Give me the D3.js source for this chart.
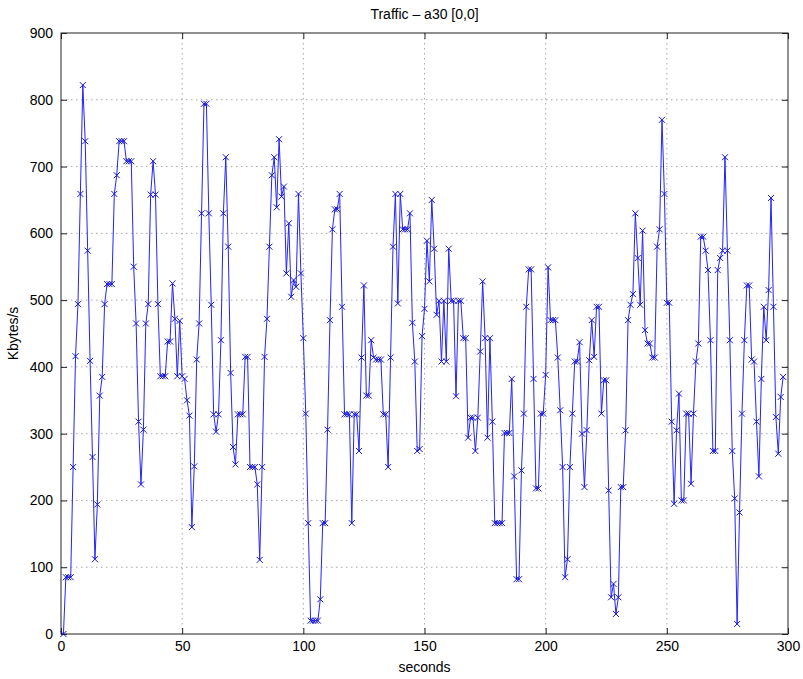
<!DOCTYPE html>
<html>
<head>
<meta charset="utf-8">
<script src="https://cdn.jsdelivr.net/npm/d3@7/dist/d3.min.js"></script>
<style>
    body { margin: 0; background: #fff; }
    #chart-area { width: 803px; height: 679px; }
    .axis text { font-family: "Liberation Sans", Arial, sans-serif; font-size: 14px; fill: #000; }
    .axis line { stroke: #222; }
    .grid line { stroke: #a8a8a8; stroke-width: 1; stroke-dasharray: 1.5, 3.5; }
    .label { font-family: "Liberation Sans", Arial, sans-serif; font-size: 14px; fill: #000; }
    .title { font-family: "Liberation Sans", Arial, sans-serif; font-size: 14px; fill: #000; }
</style>
</head>
<body>
<div id="chart-area"></div>
<script>

// Kbytes/s, one sample per second starting at t = 1
let kbytes = [
    0, 85, 85, 85, 250, 416, 494, 659, 822, 738,
    574, 409, 265, 112, 194, 357, 385, 494, 524, 524,
    524, 659, 687, 738, 738, 738, 708, 708, 708, 550,
    465, 318, 224, 306, 465, 494, 658, 708, 658, 494,
    386, 386, 386, 438, 438, 525, 472, 386, 469, 386,
    382, 350, 327, 160, 251, 411, 465, 630, 794, 794,
    630, 493, 329, 303, 329, 440, 630, 714, 580, 391,
    280, 254, 329, 329, 329, 415, 415, 250, 250, 250,
    224, 111, 250, 415, 472, 580, 687, 714, 639, 741,
    655, 670, 540, 615, 505, 530, 520, 659, 540, 443,
    330, 166, 20, 20, 20, 20, 52, 166, 166, 306,
    470, 606, 636, 636, 659, 490, 329, 329, 329, 166,
    329, 329, 274, 414, 522, 357, 357, 440, 414, 411,
    411, 411, 329, 329, 250, 414, 580, 659, 495, 659,
    606, 606, 606, 630, 466, 408, 274, 277, 446, 487,
    589, 528, 650, 577, 478, 499, 408, 499, 408, 577,
    499, 499, 356, 499, 499, 443, 443, 294, 324, 324,
    274, 324, 423, 528, 443, 294, 443, 318, 166, 166,
    166, 166, 301, 301, 301, 382, 236, 82, 82, 245,
    330, 490, 546, 546, 382, 218, 218, 330, 330, 388,
    549, 470, 470, 470, 414, 335, 250, 85, 112, 250,
    330, 408, 408, 437, 300, 220, 305, 410, 470, 415,
    490, 490, 330, 380, 380, 215, 55, 75, 30, 55,
    220, 220, 305, 470, 493, 509, 630, 563, 493, 604,
    455, 435, 435, 414, 414, 580, 606, 770, 659, 496,
    496, 318, 195, 305, 360, 200, 200, 330, 330, 225,
    330, 408, 435, 595, 595, 574, 545, 440, 274, 274,
    545, 563, 574, 714, 574, 440, 274, 203, 15, 182,
    330, 440, 522, 522, 411, 408, 318, 236, 382, 490,
    440, 515, 653, 490, 325, 270, 355, 385
];

let xTicks = [0, 50, 100, 150, 200, 250, 300];
let yTicks = [0, 100, 200, 300, 400, 500, 600, 700, 800, 900];

let chartTitle = "Traffic \u2013 a30 [0,0]";
let xLabel = "seconds";
let yLabel = "Kbytes/s";


class TrafficVis {

    constructor(parentElement, data) {
        this.parentElement = parentElement;
        this.data = data;
        this.displayData = [];

        this.initVis();
    }

    initVis() {
        let vis = this;

        vis.margin = {top: 33, right: 15, bottom: 45, left: 61};
        vis.width = 803 - vis.margin.left - vis.margin.right;
        vis.height = 679 - vis.margin.top - vis.margin.bottom;

        vis.svg = d3.select("#" + vis.parentElement).append("svg")
            .attr("width", vis.width + vis.margin.left + vis.margin.right)
            .attr("height", vis.height + vis.margin.top + vis.margin.bottom)
            .append("g")
            .attr("transform", `translate(${vis.margin.left}, ${vis.margin.top})`);

        // scales
        vis.x = d3.scaleLinear().domain([xTicks[0], xTicks[xTicks.length - 1]]).range([0, vis.width]);
        vis.y = d3.scaleLinear().domain([yTicks[0], yTicks[yTicks.length - 1]]).range([vis.height, 0]);

        // dotted grid, skipping the ones sitting on the box
        vis.svg.append("g").attr("class", "grid")
            .selectAll("line.gx")
            .data(xTicks.slice(1, -1))
            .enter().append("line")
            .attr("class", "gx")
            .attr("x1", d => vis.x(d)).attr("x2", d => vis.x(d))
            .attr("y1", 0).attr("y2", vis.height);

        vis.svg.append("g").attr("class", "grid")
            .selectAll("line.gy")
            .data(yTicks.slice(1, -1))
            .enter().append("line")
            .attr("class", "gy")
            .attr("x1", 0).attr("x2", vis.width)
            .attr("y1", d => vis.y(d)).attr("y2", d => vis.y(d));

        // axes - ticks point inwards like matlab, labels only on left/bottom
        vis.xAxis = d3.axisBottom(vis.x).tickValues(xTicks).tickSizeInner(-6).tickSizeOuter(0).tickPadding(7);
        vis.yAxis = d3.axisLeft(vis.y).tickValues(yTicks).tickSizeInner(-6).tickSizeOuter(0).tickPadding(8);
        vis.xAxisTop = d3.axisTop(vis.x).tickValues(xTicks).tickSizeInner(-6).tickSizeOuter(0).tickFormat("");
        vis.yAxisRight = d3.axisRight(vis.y).tickValues(yTicks).tickSizeInner(-6).tickSizeOuter(0).tickFormat("");

        vis.svg.append("g").attr("class", "axis x-axis")
            .attr("transform", `translate(0, ${vis.height})`);
        vis.svg.append("g").attr("class", "axis y-axis");
        vis.svg.append("g").attr("class", "axis x-axis-top");
        vis.svg.append("g").attr("class", "axis y-axis-right")
            .attr("transform", `translate(${vis.width}, 0)`);

        // box around the plot
        vis.svg.append("rect")
            .attr("width", vis.width)
            .attr("height", vis.height)
            .attr("fill", "none")
            .attr("stroke", "#222")
            .attr("stroke-width", 1);

        vis.lineArea = vis.svg.append("g").attr("class", "line-area");

        // labels
        vis.svg.append("text")
            .attr("class", "title")
            .attr("x", vis.width / 2)
            .attr("y", -14)
            .attr("text-anchor", "middle")
            .text(chartTitle);

        vis.svg.append("text")
            .attr("class", "label")
            .attr("x", vis.width / 2)
            .attr("y", vis.height + 38)
            .attr("text-anchor", "middle")
            .text(xLabel);

        vis.svg.append("text")
            .attr("class", "label")
            .attr("transform", `translate(${-43}, ${vis.height / 2}) rotate(-90)`)
            .attr("text-anchor", "middle")
            .text(yLabel);

        vis.wrangleData();
    }

    wrangleData() {
        let vis = this;

        vis.displayData = vis.data.map((d, i) => ({sec: i + 1, value: d}));

        vis.updateVis();
    }

    updateVis() {
        let vis = this;

        vis.line = d3.line()
            .x(d => vis.x(d.sec))
            .y(d => vis.y(d.value));

        vis.lineArea.append("path")
            .datum(vis.displayData)
            .attr("fill", "none")
            .attr("stroke", "#2323ff")
            .attr("stroke-width", 1)
            .attr("d", vis.line);

        // x markers
        vis.lineArea.selectAll(".marker")
            .data(vis.displayData)
            .enter().append("path")
            .attr("class", "marker")
            .attr("transform", d => `translate(${vis.x(d.sec)}, ${vis.y(d.value)})`)
            .attr("d", "M-3,-3L3,3M-3,3L3,-3")
            .attr("fill", "none")
            .attr("stroke", "#1414d8")
            .attr("stroke-width", 1);

        vis.svg.select(".x-axis").call(vis.xAxis);
        vis.svg.select(".y-axis").call(vis.yAxis);
        vis.svg.select(".x-axis-top").call(vis.xAxisTop);
        vis.svg.select(".y-axis-right").call(vis.yAxisRight);

        vis.svg.selectAll(".axis .domain").remove();
    }
}

let trafficVis = new TrafficVis("chart-area", kbytes);

</script>
</body>
</html>
